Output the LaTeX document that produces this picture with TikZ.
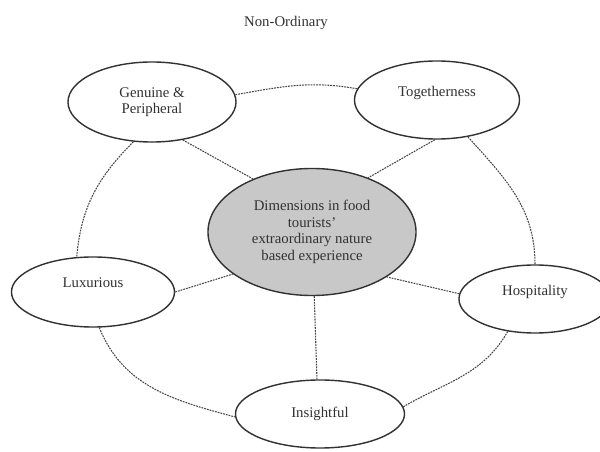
\documentclass[tikz,border=0pt]{standalone}
\usepackage{fontspec}
\setmainfont{Liberation Serif}
\usepackage{xcolor}
\usepackage{tikz}
\usetikzlibrary{shapes.geometric}

\definecolor{inkgray}{RGB}{50,50,50}
\definecolor{hubgray}{RGB}{200,200,200}

\begin{document}
\begin{tikzpicture}[
    x=0.025cm, y=0.025cm,
    every node/.style={font=\fontsize{10.5}{11.8}\selectfont, text=inkgray},
    dim/.style={ellipse, draw=inkgray, line width=1pt, fill=white, align=center, inner sep=0pt},
    raised/.style={text depth=0.45cm},
    link/.style={draw=inkgray!90, line width=0.75pt, dash pattern=on 1.3pt off 0.7pt}
]
    \useasboundingbox (0,0) rectangle (600,-452);
    \node (title) at (286,-23) {Non-Ordinary};

    \node[dim, fill=hubgray, minimum width=5.2cm, minimum height=3.175cm] (hub) at (312,-232)
        {Dimensions in food\\tourists'\\extraordinary nature\\based experience};
    \node[dim, minimum width=4.2cm, minimum height=2cm] (gen) at (152,-102) {Genuine \&\\Peripheral};
    \node[dim, raised, minimum width=4.125cm, minimum height=1.95cm] (tog) at (437,-100) {Togetherness};
    \node[dim, raised, minimum width=4.075cm, minimum height=1.75cm] (lux) at (93,-292) {Luxurious};
    \node[dim, raised, minimum width=3.8cm, minimum height=1.7cm] (hosp) at (535,-299) {Hospitality};
    \node[dim, minimum width=4.225cm, minimum height=1.7cm] (ins) at (320,-414) {Insightful};

    % Spokes to the centre
    \draw[link] (gen.-51) -- (hub.138);
    \draw[link] (tog.-93) -- (hub.44);
    \draw[link] (lux.east) -- (hub.208);
    \draw[link] (hosp.176) -- (hub.-31);
    \draw[link] (hub.-88) -- (ins.95);

    % Outer ring
    \draw[link] (gen.5) to[out=10, in=170] (tog.172);
    \draw[link] (tog.-50) to[out=-48, in=90] (hosp.north);
    \draw[link] (hosp.-130) to[out=-120, in=30] (ins.5);
    \draw[link] (lux.-80) to[out=-68, in=165] (ins.182);
    \draw[link] (gen.-115) to[out=-135, in=85] (lux.115);
\end{tikzpicture}
\end{document}
